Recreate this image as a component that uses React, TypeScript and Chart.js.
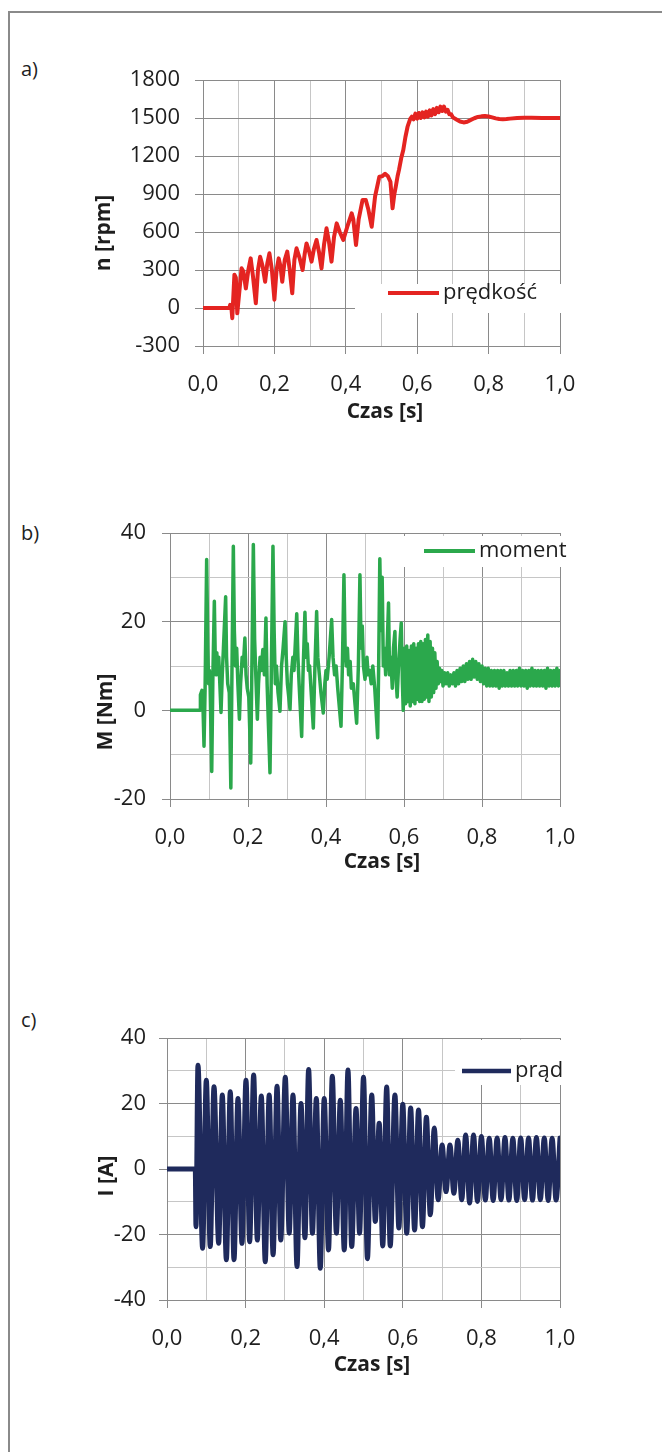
import React, { useEffect, useRef } from 'react';
import { Chart, registerables } from 'chart.js';

Chart.register(...registerables);

// ---------------- data ----------------
// a) speed n [rpm] vs time [s]
const speedTime = [
  0, 0.074, 0.076, 0.079, 0.082, 0.088, 0.092, 0.096, 0.108, 0.113, 0.12, 0.127, 0.1335, 0.14, 0.148,
  0.154, 0.16, 0.167, 0.174, 0.18, 0.186, 0.193, 0.2, 0.206, 0.212, 0.217, 0.222, 0.229, 0.236, 0.243,
  0.25, 0.256, 0.262, 0.27, 0.279, 0.285, 0.29, 0.297, 0.304, 0.311, 0.318, 0.325, 0.332, 0.339, 0.346,
  0.353, 0.36, 0.367, 0.3745, 0.383, 0.393, 0.404, 0.4165, 0.421, 0.4286, 0.436, 0.447, 0.456, 0.463,
  0.4725, 0.482, 0.494, 0.502, 0.51, 0.518, 0.525, 0.531, 0.536, 0.54, 0.545, 0.549, 0.555, 0.561, 0.567,
  0.573, 0.58, 0.585, 0.59, 0.595, 0.6, 0.605, 0.61, 0.615, 0.62, 0.625, 0.63, 0.635, 0.64, 0.645, 0.65,
  0.655, 0.66, 0.665, 0.67, 0.675, 0.68, 0.685, 0.69, 0.695, 0.7, 0.71, 0.72, 0.73, 0.74, 0.75, 0.76,
  0.77, 0.78, 0.79, 0.8, 0.81, 0.82, 0.83, 0.84, 0.85, 0.86, 0.88, 0.9, 0.92, 0.95, 1.0,
];
const speedValue = [
  0, 0, 25, 20, -80, 263, 240, -42, 313, 290, 155, 300, 392, 250, 37,
  300, 405, 330, 208, 350, 432, 300, 66, 300, 392, 330, 208, 380, 445, 300,
  116, 380, 471, 400, 300, 430, 510, 450, 366, 470, 537, 440, 313, 500, 629,
  520, 366, 560, 668, 600, 537, 640, 747, 700, 497, 700, 853, 853, 780,
  642, 880, 1037, 1040, 1060, 1040, 997, 787, 900, 958, 1040, 1090, 1180, 1247, 1350,
  1431, 1490, 1510, 1490, 1535, 1495, 1540, 1500, 1545, 1505, 1550, 1510, 1560, 1520, 1570, 1530,
  1580, 1545, 1590, 1555, 1590, 1550, 1565, 1530, 1530, 1505, 1488, 1472, 1465, 1470, 1485, 1498,
  1508, 1513, 1515, 1512, 1505, 1497, 1492, 1490, 1492, 1495, 1500, 1502, 1501, 1500, 1500,
];

// b) torque M [Nm] vs time [s]
const torqueTime = [
  0, 0.077, 0.078, 0.082, 0.084, 0.0872, 0.09, 0.094, 0.097, 0.099, 0.101, 0.103, 0.107, 0.11, 0.1137,
  0.116, 0.118, 0.12, 0.122, 0.125, 0.1308, 0.134, 0.137, 0.1427, 0.145, 0.148, 0.152, 0.156, 0.159, 0.1624,
  0.165, 0.168, 0.171, 0.174, 0.178, 0.181, 0.185, 0.188, 0.192, 0.195, 0.198, 0.202, 0.207, 0.21, 0.2137,
  0.217, 0.22, 0.224, 0.227, 0.231, 0.234, 0.238, 0.242, 0.246, 0.249, 0.2564, 0.26, 0.264, 0.267, 0.27,
  0.273, 0.277, 0.282, 0.286, 0.29, 0.295, 0.298, 0.301, 0.3077, 0.311, 0.315, 0.318, 0.325, 0.328, 0.331,
  0.3376, 0.341, 0.346, 0.349, 0.352, 0.355, 0.358, 0.3675, 0.371, 0.376, 0.379, 0.383, 0.387, 0.393, 0.397,
  0.4, 0.403, 0.408, 0.4145, 0.418, 0.422, 0.426, 0.43, 0.4385, 0.442, 0.446, 0.449, 0.452, 0.455, 0.458,
  0.462, 0.465, 0.47, 0.4786, 0.483, 0.487, 0.49, 0.493, 0.496, 0.5, 0.505, 0.508, 0.512, 0.516, 0.52,
  0.525, 0.5325, 0.535, 0.538, 0.541, 0.544, 0.547, 0.55, 0.553, 0.556, 0.5603, 0.563, 0.566, 0.57, 0.573,
  0.5767, 0.579, 0.5825, 0.586, 0.59, 0.593, 0.596, 0.598,
  0.601, 0.604, 0.607, 0.61, 0.613, 0.616, 0.619, 0.622, 0.625, 0.628, 0.631, 0.634, 0.637, 0.64, 0.643,
  0.646, 0.649, 0.652, 0.655, 0.658, 0.661, 0.664, 0.667, 0.67, 0.673, 0.676, 0.679, 0.682, 0.685, 0.688,
  0.691, 0.694, 0.697, 0.7, 0.704, 0.708, 0.712, 0.716, 0.72, 0.724, 0.728, 0.732, 0.736, 0.74, 0.744,
  0.748, 0.752, 0.756, 0.76, 0.764, 0.768, 0.772, 0.776, 0.78, 0.784, 0.788, 0.792, 0.796, 0.8, 0.804,
  0.808, 0.812, 0.816, 0.82, 0.824, 0.828, 0.832, 0.836, 0.84, 0.844, 0.848, 0.852, 0.856, 0.86, 0.864,
  0.868, 0.872, 0.876, 0.88, 0.884, 0.888, 0.892, 0.896, 0.9, 0.904, 0.908, 0.912, 0.916, 0.92, 0.924,
  0.928, 0.932, 0.936, 0.94, 0.944, 0.948, 0.952, 0.956, 0.96, 0.964, 0.968, 0.972, 0.976, 0.98, 0.984,
  0.988, 0.992, 0.996, 1.0,
];
const torqueValue = [
  0, 0, 3.5, 4.5, 3, -8.1, 5, 34, 14, 6, 9, 5, -13.8, 8, 24.6,
  12, 8, 13, 9, 12, -0.5, 8, 14, 25.6, 12, 6, 4, -17.5, 10, 37,
  18, 10, 14, 6, -2, 6, 12, 10, 16.3, 8, 5, 3, -11.9, 10, 37.4,
  16, 8, -2, 6, 12, 9, 13.7, 8, 20.8, 6, -14.1, 10, 37, 18, 6,
  10, 4, -0.2, 10, 14, 20, 12, 6, 0.2, 8, 12, 9, 21.8, 12, 6,
  -5.9, 8, 22.1, 12, 15, 9, 10, -4, 8, 22.3, 12, 8, 4, -0.6, 6,
  9, 7, 12, 20.5, 12, 8, 10, 5, -3.6, 10, 30.6, 14, 10, 14, 8,
  11, 5, 6, -2.9, 10, 30.6, 14, 19, 10, 7, 12, 8, 9, 6, 10,
  5, -6.2, 10, 34.2, 18, 30, 10, 14, 8, 12, 24.2, 8, 12, 5, 14,
  17.8, 8, 3, 10, 16, 19.7, 6, 0,
  14, 1.5, 14.5, 2, 13.5, 1, 14.5, 2, 15, 1.5, 14, 2.5, 15, 2, 15.5,
  2, 15, 2.5, 16, 3, 17, 2, 15.5, 3, 14, 4, 13, 5, 11, 6,
  9.5, 6.5, 9, 5.5, 8.5, 6, 8.5, 5.5, 8, 6, 8.5, 5.5, 9, 6, 9.5,
  6.5, 10, 6.5, 10.5, 7, 11, 7, 11.5, 7.5, 11, 7, 10.5, 6.5, 10, 6,
  9.5, 5.5, 9.5, 5.5, 9, 5.5, 9, 5.5, 9, 5, 9, 5.5, 9, 5.5, 8.5,
  5.5, 9, 5.5, 9, 5.5, 9, 5.5, 9.5, 5.5, 9, 5.5, 9, 5, 9, 5.5,
  9.5, 5.5, 9, 5.5, 9, 5.5, 9, 5.5, 9, 5, 9.5, 5.5, 9, 5.5, 9,
  5.5, 9.5, 5.5, 9,
];

// c) current I [A] vs time [s] (peaks and troughs)
const currentTime = [
  0, 0.072, 0.0737, 0.0788, 0.0906, 0.1, 0.11, 0.1196, 0.1315, 0.1407, 0.151, 0.161, 0.1705, 0.1806, 0.1908,
  0.201, 0.2103, 0.2205, 0.2298, 0.24, 0.25, 0.26, 0.27, 0.28, 0.2895, 0.301, 0.311, 0.3206, 0.3308, 0.341,
  0.351, 0.3604, 0.37, 0.38, 0.39, 0.4, 0.411, 0.4206, 0.431, 0.441, 0.451, 0.4605, 0.47, 0.481, 0.49,
  0.5, 0.51, 0.521, 0.53, 0.54, 0.549, 0.559, 0.568, 0.58, 0.59, 0.6, 0.61, 0.62, 0.63, 0.64,
  0.65, 0.66, 0.67, 0.68, 0.69, 0.7, 0.71, 0.72, 0.73, 0.74, 0.75, 0.76, 0.77, 0.78, 0.79,
  0.8, 0.81, 0.82, 0.83, 0.84, 0.85, 0.86, 0.87, 0.88, 0.89, 0.9, 0.91, 0.92, 0.93, 0.94,
  0.95, 0.96, 0.97, 0.98, 0.99, 1.0,
];
const currentValue = [
  0, 0, -17.6, 31.7, -24.2, 27.1, -23.7, 25.1, -22.7, 22.6, -27.7, 23.6, -27.7, 21.5, -22.7,
  27.1, -22.2, 28.7, -21.7, 22.3, -28.3, 22.6, -26.2, 25.3, -21.7, 28, -19.6, 22.6, -29.8, 20,
  -21, 30.4, -19.6, 21.5, -30.3, 21.5, -24.7, 28.3, -19.6, 21, -24.7, 30.2, -23.7, 18.5, -19.6,
  28, -27.4, 22.6, -16, 14, -23.5, 25, -23.5, 22.6, -18, 19.8, -19.6, 18.6, -18.6, 18,
  -17.6, 15.8, -14, 12.5, -9.4, 7.3, -6.9, 7.3, -7.4, 8.8, -9.4, 10.4, -10.4, 10.4, -9.9,
  9.9, -9.5, 9.4, -9.6, 9.5, -9.4, 9.6, -9.5, 9.4, -9.6, 9.5, -9.4, 9.5, -9.5, 9.6,
  -9.4, 9.5, -9.6, 9.4, -9.5, 9.5,
];

// axes
const timeMajor = [0, 0.2, 0.4, 0.6, 0.8, 1.0];
const timeMajorLabels = ['0,0', '0,2', '0,4', '0,6', '0,8', '1,0'];
const timeMinor = [0.1, 0.3, 0.5, 0.7, 0.9];

const speedTicks = [-300, 0, 300, 600, 900, 1200, 1500, 1800];
const torqueTicks = [-20, 0, 20, 40];
const torqueMinor = [-10, 10, 30];
const currentTicks = [-40, -20, 0, 20, 40];
const currentMinor = [-30, -10, 10, 30];

// ---------------- helpers ----------------
const FONT = '"Open Sans", "DejaVu Sans", sans-serif';
const MAJOR = '#8a8a8a';
const MINOR = '#c6c6c6';
const TEXT = '#1e1e1e';

const near = (a: number, b: number) => Math.abs(a - b) < 1e-6;

const insideLegend = {
  id: 'insideLegend',
  beforeDatasetsDraw(chart: any, _args: any, opts: any) {
    if (!opts || !opts.box) return;
    const ds = chart.data.datasets[0];
    const ctx = chart.ctx;
    ctx.save();
    ctx.fillStyle = '#ffffff';
    ctx.fillRect(opts.box[0], opts.box[1], opts.box[2], opts.box[3]);
    ctx.strokeStyle = ds.borderColor;
    ctx.lineWidth = opts.lineWidth;
    ctx.beginPath();
    ctx.moveTo(opts.line[0], opts.line[2]);
    ctx.lineTo(opts.line[1], opts.line[2]);
    ctx.stroke();
    ctx.fillStyle = TEXT;
    ctx.font = `22px ${FONT}`;
    ctx.textAlign = 'left';
    ctx.textBaseline = 'middle';
    ctx.fillText(ds.label, opts.textX, opts.line[2]);
    ctx.restore();
  },
};

const axisTitles = {
  id: 'axisTitles',
  afterDraw(chart: any, _args: any, opts: any) {
    if (!opts || !opts.items) return;
    const ctx = chart.ctx;
    ctx.save();
    ctx.fillStyle = TEXT;
    ctx.font = `bold 21px ${FONT}`;
    ctx.textAlign = 'center';
    ctx.textBaseline = 'middle';
    for (const it of opts.items) {
      ctx.save();
      ctx.translate(it.x, it.y);
      if (it.rotate) ctx.rotate(-Math.PI / 2);
      ctx.fillText(it.text, 0, 0);
      ctx.restore();
    }
    ctx.restore();
  },
};

type Spec = {
  label: string;
  times: number[];
  values: number[];
  color: string;
  lineWidth: number;
  smooth: boolean;
  yMin: number;
  yMax: number;
  yMajor: number[];
  yMinor: number[];
  area: { left: number; top: number; right: number; bottom: number };
  height: number;
  yPad: number;
  xPad: number;
  legend: { box: number[]; line: number[]; textX: number; lineWidth: number };
  titles: { text: string; x: number; y: number; rotate?: boolean }[];
};

function buildConfig(s: Spec): any {
  const W = 662;
  const Wy = 100;
  const Hx = 60;
  const points = s.times.map((t, i) => ({ x: t, y: s.values[i] }));
  const yAll = [...s.yMajor, ...s.yMinor].sort((a, b) => a - b);
  const xAll = [...timeMajor, ...timeMinor].sort((a, b) => a - b);
  const isXMajor = (v: number) => timeMajor.some((m) => near(m, v));
  const isYMajor = (v: number) => s.yMajor.some((m) => near(m, v));
  return {
    type: 'line',
    data: {
      datasets: [
        {
          label: s.label,
          data: points,
          borderColor: s.color,
          backgroundColor: s.color,
          borderWidth: s.lineWidth,
          pointRadius: 0,
          tension: s.smooth ? 0.4 : 0,
          cubicInterpolationMode: s.smooth ? 'monotone' : 'default',
          borderJoinStyle: 'round',
          borderCapStyle: 'round',
          fill: false,
        },
      ],
    },
    options: {
      responsive: false,
      animation: false,
      devicePixelRatio: 1,
      layout: {
        padding: {
          left: s.area.left - Wy,
          top: s.area.top,
          right: W - s.area.right,
          bottom: s.height - s.area.bottom - Hx,
        },
      },
      plugins: {
        legend: { display: false },
        tooltip: { enabled: false },
        insideLegend: s.legend,
        axisTitles: { items: s.titles },
      },
      scales: {
        x: {
          type: 'linear',
          min: 0,
          max: 1,
          afterFit: (sc: any) => {
            sc.height = Hx;
          },
          afterBuildTicks: (sc: any) => {
            sc.ticks = xAll.map((v) => ({ value: v }));
          },
          ticks: {
            autoSkip: false,
            maxRotation: 0,
            padding: s.xPad,
            color: TEXT,
            font: { family: FONT, size: 22 },
            callback: (v: number) => {
              const i = timeMajor.findIndex((m) => near(m, v));
              return i >= 0 ? timeMajorLabels[i] : '';
            },
          },
          grid: {
            color: (c: any) => (c.tick && isXMajor(c.tick.value) ? MAJOR : MINOR),
            tickColor: (c: any) => (c.tick && isXMajor(c.tick.value) ? MAJOR : 'rgba(0,0,0,0)'),
            tickLength: 8,
            lineWidth: 1,
          },
          border: { display: true, color: MAJOR, width: 1 },
        },
        y: {
          type: 'linear',
          min: s.yMin,
          max: s.yMax,
          afterFit: (sc: any) => {
            sc.width = Wy;
          },
          afterBuildTicks: (sc: any) => {
            sc.ticks = yAll.map((v) => ({ value: v }));
          },
          ticks: {
            autoSkip: false,
            padding: s.yPad,
            color: TEXT,
            font: { family: FONT, size: 22 },
            callback: (v: number) => (isYMajor(v) ? String(v) : ''),
          },
          grid: {
            color: (c: any) => (c.tick && isYMajor(c.tick.value) ? MAJOR : MINOR),
            tickColor: (c: any) => (c.tick && isYMajor(c.tick.value) ? MAJOR : 'rgba(0,0,0,0)'),
            tickLength: 8,
            lineWidth: 1,
          },
          border: { display: true, color: MAJOR, width: 1 },
        },
      },
    },
    plugins: [insideLegend, axisTitles],
  };
}

function Panel({ spec, top }: { spec: Spec; top: number }) {
  const ref = useRef<HTMLCanvasElement>(null);
  useEffect(() => {
    if (!ref.current) return;
    const chart = new Chart(ref.current, buildConfig(spec));
    return () => chart.destroy();
  }, []);
  return (
    <canvas
      ref={ref}
      width={662}
      height={spec.height}
      style={{ position: 'absolute', left: 0, top, width: 662, height: spec.height }}
    />
  );
}

// panel a: canvas top 40
const specA: Spec = {
  label: 'prędkość',
  times: speedTime,
  values: speedValue,
  color: '#e42421',
  lineWidth: 4,
  smooth: false,
  yMin: -300,
  yMax: 1800,
  yMajor: speedTicks,
  yMinor: [],
  area: { left: 203, top: 40, right: 560, bottom: 306 },
  height: 400,
  yPad: 15,
  xPad: 18,
  legend: { box: [355, 244, 210, 29], line: [388, 439, 253], textX: 443, lineWidth: 4 },
  titles: [
    { text: 'n [rpm]', x: 104, y: 193, rotate: true },
    { text: 'Czas [s]', x: 385, y: 372 },
  ],
};

// panel b: canvas top 490
const specB: Spec = {
  label: 'moment',
  times: torqueTime,
  values: torqueValue,
  color: '#2ba84c',
  lineWidth: 3.5,
  smooth: false,
  yMin: -20,
  yMax: 40,
  yMajor: torqueTicks,
  yMinor: torqueMinor,
  area: { left: 170, top: 43, right: 560, bottom: 309 },
  height: 420,
  yPad: 16,
  xPad: 18,
  legend: { box: [396, 46, 170, 31], line: [424, 475, 61], textX: 479, lineWidth: 4 },
  titles: [
    { text: 'M [Nm]', x: 106, y: 222, rotate: true },
    { text: 'Czas [s]', x: 382, y: 372 },
  ],
};

// panel c: canvas top 990
const specC: Spec = {
  label: 'prąd',
  times: currentTime,
  values: currentValue,
  color: '#1f2a5c',
  lineWidth: 5,
  smooth: true,
  yMin: -40,
  yMax: 40,
  yMajor: currentTicks,
  yMinor: currentMinor,
  area: { left: 167, top: 48, right: 560, bottom: 310 },
  height: 420,
  yPad: 13,
  xPad: 18,
  legend: { box: [455, 50, 110, 45], line: [462, 511, 81], textX: 515, lineWidth: 4.5 },
  titles: [
    { text: 'I [A]', x: 107, y: 186, rotate: true },
    { text: 'Czas [s]', x: 372, y: 375 },
  ],
};

const panelLabel = (text: string, top: number) => (
  <div
    style={{
      position: 'absolute',
      left: 21,
      top,
      fontFamily: FONT,
      fontSize: 20,
      lineHeight: '24px',
      color: TEXT,
    }}
  >
    {text}
  </div>
);

export default function App() {
  return (
    <div style={{ position: 'absolute', left: 0, top: 0, width: 662, height: 1452, background: '#fff', overflow: 'hidden' }}>
      <div style={{ position: 'absolute', left: 9, top: 11, width: 653, height: 2, background: '#8a8a8a' }} />
      <div style={{ position: 'absolute', left: 8, top: 11, width: 2, height: 1441, background: '#8a8a8a' }} />
      {panelLabel('a)', 57)}
      {panelLabel('b)', 521)}
      {panelLabel('c)', 1008)}
      <Panel spec={specA} top={40} />
      <Panel spec={specB} top={490} />
      <Panel spec={specC} top={990} />
    </div>
  );
}
